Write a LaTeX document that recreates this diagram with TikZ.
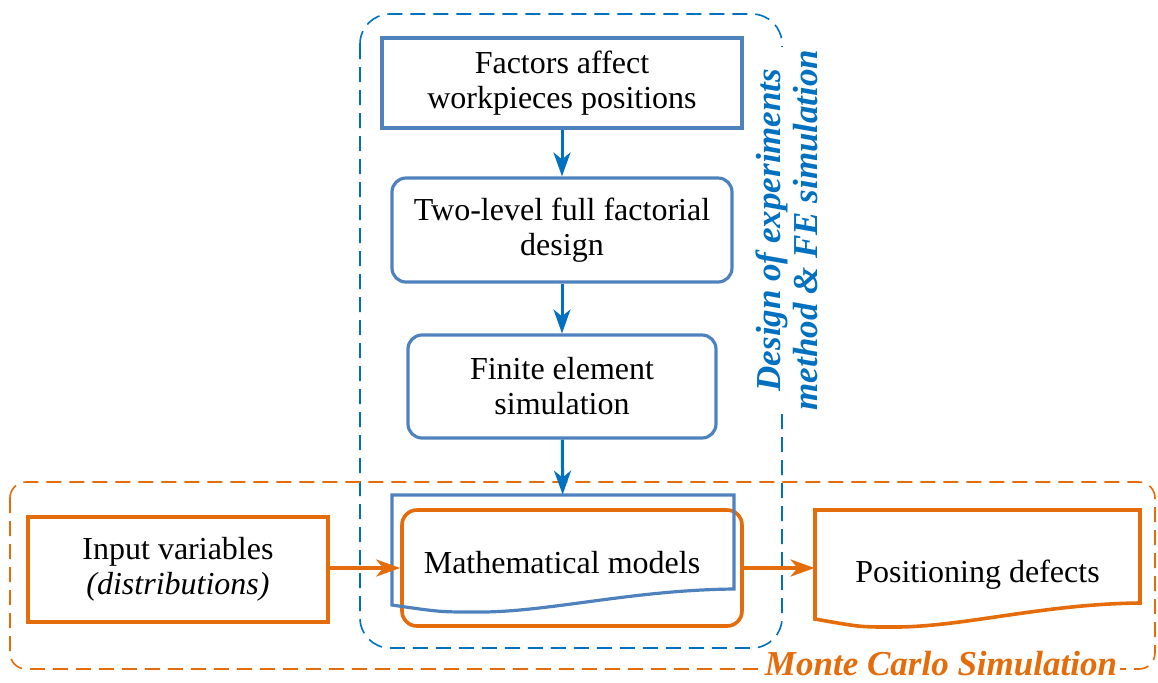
\documentclass[tikz,border=0pt]{standalone}
\usepackage{fontspec}
\setmainfont{Liberation Serif}
\usetikzlibrary{arrows.meta}
\definecolor{steel}{RGB}{79,129,189}
\definecolor{mcblue}{RGB}{0,112,192}
\definecolor{mcorange}{RGB}{228,108,10}

\begin{document}
\begin{tikzpicture}[x=.5pt,y=-.5pt,font=\fontsize{16}{17.5}\selectfont,
  boxblue/.style={draw=steel,line width=1.6pt,align=center,inner sep=0pt},
  boxorange/.style={draw=mcorange,line width=1.8pt,align=center,inner sep=0pt},
  docblue/.style={draw=steel,line width=1.6pt},
  docorange/.style={draw=mcorange,line width=1.8pt},
  dashblue/.style={draw=mcblue,line width=.8pt,dash pattern=on 7.5pt off 4pt},
  dashorange/.style={draw=mcorange,line width=.8pt,dash pattern=on 7.5pt off 4pt},
  flowblue/.style={draw=mcblue,line width=1.5pt,-{Stealth[length=12pt,width=8.5pt,inset=3.5pt]}},
  floworange/.style={draw=mcorange,line width=1.8pt,-{Stealth[length=12pt,width=8.5pt,inset=3.5pt]}},
  grouplabel/.style={fill=white,inner sep=1.5pt,align=center,font=\bfseries\itshape\fontsize{17.5}{18.5}\selectfont}]
\useasboundingbox (0,0) rectangle (1158,682);
\draw[dashblue,rounded corners=15pt] (360,14) rectangle (782,648);
\draw[dashorange,rounded corners=8pt] (10,482) rectangle (1155,669);
\node[grouplabel,text=mcblue,rotate=90] (doelabel) at (787,230) {Design of experiments\\method \& FE simulation};
\node[grouplabel,text=mcorange] (mclabel) at (941,664) {Monte Carlo Simulation};
\node[boxblue,minimum width=180pt,minimum height=45pt] (factors) at (562,83) {Factors affect\\workpieces positions};
\node[boxblue,rounded corners=7pt,minimum width=170pt,minimum height=52pt] (design) at (562,230) {Two-level full factorial\\design};
\node[boxblue,rounded corners=7pt,minimum width=154pt,minimum height=51.5pt] (fem) at (562,386.5) {Finite element\\simulation};
\node[boxorange,rounded corners=7.5pt,minimum width=170pt,minimum height=58pt] (math) at (572,568) {};
\draw[docblue] (392,495) -- (734,495) -- (734,589) .. controls (630,590) and (545,613) .. (475,612) .. controls (440,612) .. (392,605) -- cycle;
\node[inner sep=0pt,minimum width=171pt,minimum height=55.5pt] (mathdoc) at (563,550.5) {};
\node (mathtext) at (562,563) {Mathematical models};
\node[boxorange,minimum width=150pt,minimum height=52.5pt] (input) at (178,569.5) {Input variables\\\textit{(distributions)}};
\draw[docorange] (815,510) -- (1140,510) -- (1140,603) .. controls (1040,604) and (960,628) .. (890,627) .. controls (860,627) .. (815,619) -- cycle;
\node[inner sep=0pt,minimum width=162.5pt,minimum height=65pt] (defects) at (977.5,575) {Positioning defects};
\draw[flowblue] (factors) -- (design);
\draw[flowblue] (design) -- (fem);
\draw[flowblue] (fem) -- (mathdoc);
\draw[floworange] (input.east |- math.west) -- (math.west);
\draw[floworange] (math.east) -- (math.east -| defects.west);
\end{tikzpicture}
\end{document}
